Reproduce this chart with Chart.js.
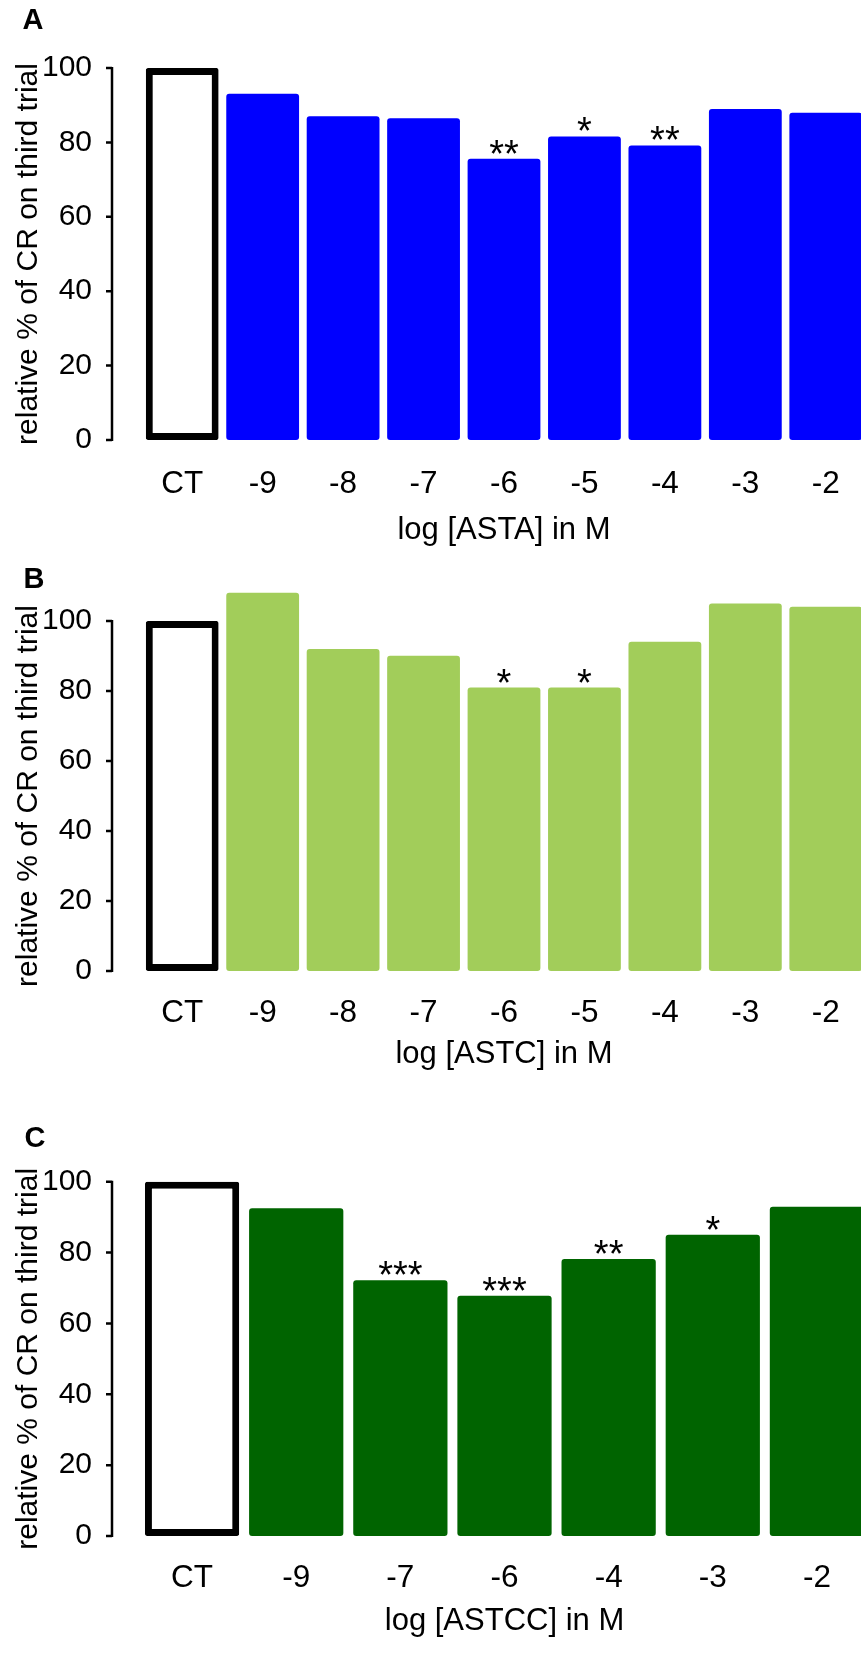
<!DOCTYPE html>
<html>
<head>
<meta charset="utf-8">
<script src="https://cdn.jsdelivr.net/npm/chart.js@4.4.1/dist/chart.umd.min.js"></script>
<style>
  html, body { margin: 0; padding: 0; background: #fff; overflow: hidden; width: 861px; height: 1673px; }
  canvas { position: absolute; left: 0; }
</style>
</head>
<body>
<canvas id="chartA" width="866" height="550" style="top:0px"></canvas>
<canvas id="chartB" width="866" height="531" style="top:550px"></canvas>
<canvas id="chartC" width="869" height="565" style="top:1081px"></canvas>
<script>
// values (relative % of CR on third trial)
const yTicks = [0, 20, 40, 60, 80, 100];

const labelsA = ["CT", "-9", "-8", "-7", "-6", "-5", "-4", "-3", "-2"];
const valuesA = [100, 93.1, 87.0, 86.5, 75.6, 81.6, 79.2, 89.0, 88.0];
const starsA = ["", "", "", "", "**", "*", "**", "", ""];

const labelsB = ["CT", "-9", "-8", "-7", "-6", "-5", "-4", "-3", "-2"];
const valuesB = [100, 108.1, 92.0, 90.1, 81.0, 81.0, 94.1, 105.0, 104.1];
const starsB = ["", "", "", "", "*", "*", "", "", ""];

const labelsC = ["CT", "-9", "-7", "-6", "-4", "-3", "-2"];
const valuesC = [100, 92.5, 72.2, 67.8, 78.2, 85.0, 92.9];
const starsC = ["", "", "***", "***", "**", "*", ""];

const FONT = '"Liberation Sans", Arial, Helvetica, sans-serif';
Chart.defaults.font.family = FONT;
Chart.defaults.color = "#000";

// y axis line + ticks, significance stars and panel letter
const extras = {
	id: "extras",
	afterDatasetsDraw(chart, args, opts) {
		const ctx = chart.ctx;
		const y = chart.scales.y;
		ctx.save();
		ctx.strokeStyle = "#000";
		ctx.lineWidth = 2.5;
		ctx.beginPath();
		ctx.moveTo(opts.axisX, y.getPixelForValue(0) + 1);
		ctx.lineTo(opts.axisX, y.getPixelForValue(100) - 1);
		yTicks.forEach((v) => {
			const py = y.getPixelForValue(v);
			ctx.moveTo(opts.axisX - 6, py);
			ctx.lineTo(opts.axisX, py);
		});
		ctx.stroke();

		ctx.fillStyle = "#000";
		ctx.font = "38px " + FONT;
		ctx.textAlign = "center";
		ctx.textBaseline = "alphabetic";
		const meta = chart.getDatasetMeta(0);
		opts.stars.forEach((s, i) => {
			if (!s) return;
			const bar = meta.data[i];
			ctx.fillText(s, bar.x, bar.y + 8);
		});

		ctx.font = "bold 29px " + FONT;
		ctx.textBaseline = "middle";
		ctx.fillText(opts.letter, opts.letterX, opts.letterY);
		ctx.restore();
	},
};

function makePanel(id, p) {
	const ctx = document.getElementById(id).getContext("2d");
	return new Chart(ctx, {
		type: "bar",
		data: {
			labels: p.labels,
			datasets: [
				{
					data: p.values,
					clip: false,
					backgroundColor: (c) => (c.dataIndex === 0 ? "#ffffff" : p.color),
					borderColor: (c) => (c.dataIndex === 0 ? "#000000" : p.color),
					borderWidth: (c) => (c.dataIndex === 0 ? 7 : 0),
					borderRadius: (c) => (c.dataIndex === 0 ? 2 : 3),
					borderSkipped: false,
					barPercentage: 0.905,
					categoryPercentage: 1,
				},
			],
		},
		options: {
			responsive: false,
			animation: false,
			devicePixelRatio: 1,
			events: [],
			layout: { padding: { top: p.padTop, left: 0, right: 0, bottom: 0 } },
			plugins: {
				legend: { display: false },
				tooltip: { enabled: false },
				extras: { axisX: 112, stars: p.stars, letter: p.letter, letterX: p.letterX, letterY: p.letterY },
			},
			scales: {
				x: {
					afterFit: (s) => { s.height = 110; },
					grid: { display: false, drawTicks: false },
					border: { display: false },
					ticks: { padding: p.tickPad, font: { size: 31.5 }, color: "#000", autoSkip: false, maxRotation: 0 },
					title: { display: true, text: p.xTitle, font: { size: 31 }, color: "#000", padding: { top: 0, bottom: p.titlePad } },
				},
				y: {
					min: 0,
					max: 100,
					afterFit: (s) => { s.width = p.leftW; },
					afterBuildTicks: (s) => { s.ticks = yTicks.map((v) => ({ value: v })); },
					grid: { display: false, drawTicks: false },
					border: { display: false },
					ticks: { padding: p.leftW - 92, font: { size: 30 }, color: "#000" },
					title: { display: true, text: "relative % of CR on third trial", font: { size: 30 }, color: "#000", padding: { top: 11, bottom: 0 } },
				},
			},
		},
		plugins: [extras],
	});
}

makePanel("chartA", {
	labels: labelsA, values: valuesA, stars: starsA, color: "#0000ff",
	xTitle: "log [ASTA] in M", letter: "A", letterX: 33, letterY: 21,
	padTop: 64, leftW: 142, tickPad: 25.8, titlePad: 1,
});
makePanel("chartB", {
	labels: labelsB, values: valuesB, stars: starsB, color: "#a2cd5a",
	xTitle: "log [ASTC] in M", letter: "B", letterX: 34, letterY: 30,
	padTop: 71, leftW: 142, tickPad: 23.4, titlePad: 7.6,
});
makePanel("chartC", {
	labels: labelsC, values: valuesC, stars: starsC, color: "#006400",
	xTitle: "log [ASTCC] in M", letter: "C", letterX: 35, letterY: 58,
	padTop: 100.7, leftW: 140, tickPad: 23.1, titlePad: 6.1,
});
</script>
</body>
</html>
